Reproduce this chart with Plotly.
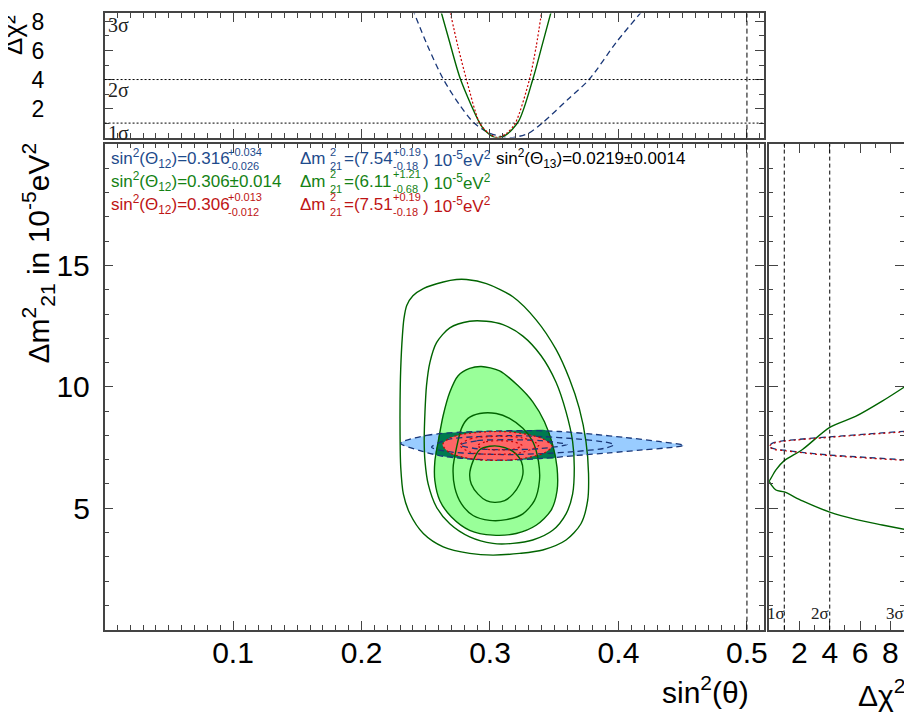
import plotly.graph_objects as go

# The page body has an 8px margin, so the figure is 904x706 and screen pixels are shifted by 8.
OFF = 8
W, H = 912 - OFF, 714 - OFF

# ---------------- data ----------------
# main panel: x = sin^2(theta), y = dm^2_21 in 1e-5 eV^2
green_c1_x = [0.2817,0.2739,0.2636,0.2481,0.2400,0.2352,0.2330,0.2318,0.2305,0.2300,0.2300,0.2305,0.2326,0.2377,0.2481,0.2636,0.2842,0.3023,0.3230,0.3411,0.3592,0.3708,0.3760,0.3767,0.3747,0.3695,0.3618,0.3514,0.3359,0.3178,0.2972]
green_c1_y = [14.42,14.42,14.32,14.05,13.75,13.35,12.80,12.09,10.73,9.38,8.02,6.71,5.58,4.77,3.96,3.41,3.14,3.07,3.14,3.28,3.69,4.36,5.31,6.43,7.75,9.11,10.33,11.54,12.76,13.71,14.25]

green_c2_x = [0.2842,0.2687,0.2584,0.2532,0.2506,0.2494,0.2488,0.2494,0.2519,0.2584,0.2687,0.2842,0.3023,0.3178,0.3333,0.3488,0.3592,0.3643,0.3656,0.3643,0.3592,0.3514,0.3398,0.3256,0.3101,0.2972]
green_c2_y = [12.70,12.43,11.82,11.00,10.06,8.97,7.75,6.94,5.99,5.04,4.36,3.82,3.55,3.55,3.69,4.09,4.77,5.58,6.67,7.75,8.97,10.19,11.28,12.09,12.56,12.70]

green_c3_x = [0.2933,0.2842,0.2752,0.2687,0.2636,0.2597,0.2571,0.2571,0.2610,0.2700,0.2842,0.3023,0.3204,0.3359,0.3475,0.3522,0.3522,0.3488,0.3424,0.3333,0.3217,0.3075]
green_c3_y = [10.84,10.76,10.46,9.78,8.83,7.75,6.94,6.13,5.31,4.64,4.09,3.89,3.96,4.30,4.91,5.72,6.67,7.61,8.56,9.38,10.05,10.66]

green_c4_x = [0.2920,0.2829,0.2778,0.2739,0.2713,0.2726,0.2778,0.2868,0.2997,0.3127,0.3256,0.3346,0.3385,0.3377,0.3333,0.3256,0.3152,0.3049]
green_c4_y = [8.90,8.70,8.29,7.48,6.67,5.85,5.18,4.70,4.50,4.53,4.77,5.31,6.13,6.94,7.75,8.29,8.70,8.90]

green_c5_x = [0.2997,0.2920,0.2868,0.2842,0.2855,0.2907,0.2972,0.3036,0.3114,0.3178,0.3230,0.3256,0.3243,0.3178,0.3075]
green_c5_y = [7.55,7.41,6.94,6.40,5.99,5.58,5.31,5.24,5.31,5.58,5.99,6.40,6.94,7.34,7.55]

blue_out_x = [0.2305,0.2506,0.2765,0.3023,0.3282,0.3540,0.3798,0.4057,0.4315,0.4509,0.4419,0.4186,0.3928,0.3669,0.3411,0.3152,0.2894,0.2636,0.2455]
blue_out_y = [7.68,8.00,8.13,8.18,8.20,8.16,8.05,7.91,7.75,7.59,7.51,7.40,7.28,7.17,7.05,6.98,7.01,7.14,7.37]

blue_mid_x = [0.2545,0.2661,0.2894,0.3152,0.3411,0.3669,0.3902,0.3966,0.3902,0.3669,0.3411,0.3152,0.2894,0.2661]
blue_mid_y = [7.51,7.82,7.95,7.99,7.95,7.86,7.72,7.62,7.48,7.34,7.25,7.21,7.24,7.34]

blue_in_x = [0.2765,0.2900,0.3150,0.3400,0.3600,0.3400,0.3150,0.2900]
blue_in_y = [7.60,7.78,7.82,7.78,7.62,7.46,7.41,7.45]

red_out_x = [0.2631,0.2687,0.2791,0.2920,0.3049,0.3178,0.3307,0.3411,0.3483,0.3424,0.3307,0.3178,0.3049,0.2920,0.2791,0.2687]
red_out_y = [7.62,7.89,8.05,8.13,8.16,8.13,8.02,7.86,7.55,7.28,7.10,6.99,6.97,6.99,7.10,7.28]

red_mid_x = [0.2765,0.2850,0.3050,0.3250,0.3380,0.3250,0.3050,0.2850]
red_mid_y = [7.60,7.86,7.96,7.90,7.60,7.30,7.22,7.30]

red_in_x = [0.2900,0.2970,0.3070,0.3180,0.3250,0.3180,0.3070,0.2970]
red_in_y = [7.58,7.74,7.78,7.74,7.58,7.43,7.40,7.43]

# top panel: delta chi^2 versus sin^2(theta)
top_green_x = [0.2612,0.2678,0.2771,0.2920,0.2959,0.3042,0.3125,0.3224,0.3333,0.3406,0.3483]
top_green_y = [8.9,6.83,4.0,1.0,0.51,0.0,0.19,1.15,4.0,6.37,8.9]
top_red_x = [0.2684,0.2750,0.2817,0.2920,0.2990,0.3060,0.3130,0.3197,0.3307,0.3360,0.3406]
top_red_y = [8.9,6.3,4.0,1.0,0.3,0.0,0.3,1.0,4.0,6.3,8.9]
top_blue_x = [0.2396,0.2512,0.2638,0.2760,0.2877,0.3000,0.3160,0.3300,0.3406,0.3605,0.3771,0.3986,0.4202]
top_blue_y = [8.9,6.37,4.0,2.3,1.0,0.3,0.0,0.3,1.0,2.62,4.0,6.6,8.9]

# right panel: delta chi^2 versus dm^2_21
right_green_x = [8.99,7.46,5.7,4.0,2.2,1.0,0.45,0.06,0.0,0.45,1.0,2.2,4.0,5.7,7.46,8.99]
right_green_y = [10.02,9.41,8.78,8.33,7.42,6.96,6.58,6.17,6.13,5.75,5.67,5.30,4.84,4.54,4.31,4.12]
right_blue_x = [8.99,6.5,4.0,2.0,1.0,0.3,0.0,0.3,1.0,2.0,4.0,6.5,8.99]
right_blue_y = [8.17,8.06,7.94,7.84,7.78,7.70,7.56,7.45,7.39,7.31,7.19,7.09,6.99]
right_red_x = [8.99,4.0,1.0,0.3,0.0,0.3,1.0,4.0,8.99]
right_red_y = [8.15,7.92,7.76,7.68,7.54,7.43,7.37,7.17,6.97]

sigma_levels = [1, 4, 9]
sigma_names = ["1σ", "2σ", "3σ"]
maximal_mixing = 0.5

x_ticks = [0.1, 0.2, 0.3, 0.4, 0.5]
y_ticks = [5, 10, 15]
chi_ticks = [2, 4, 6, 8]

# legend values
leg_colors = ["rgb(30,75,140)", "rgb(20,130,20)", "rgb(190,20,20)"]
leg_s12 = ["0.316", "0.306±0.014", "0.306"]
leg_s12_err = [("+0.034", "-0.026"), None, ("+0.013", "-0.012")]
leg_dm = ["7.54", "6.11", "7.51"]
leg_dm_err = [("+0.19", "-0.18"), ("+1.21", "-0.68"), ("+0.19", "-0.18")]
leg_s13 = "sin<sup>2</sup>(Θ<sub>13</sub>)=0.0219±0.0014"

# ---------------- styling ----------------
SANS = "Liberation Sans, Arial, sans-serif"
SERIF = "Liberation Serif, Times New Roman, serif"
FRAME = "#444444"
LGREEN = "rgb(153,255,153)"
DGREEN_FILL = "rgb(0,122,80)"
LBLUE = "rgb(153,204,255)"
LRED = "rgb(255,102,102)"
GLINE = "rgb(0,100,0)"
BLINE = "rgb(25,55,120)"
RLINE = "rgb(200,0,0)"


def closed(a):
    return list(a) + [a[0]]


def signed_area(xs, ys):
    s = 0.0
    n = len(xs)
    for i in range(n):
        j = (i + 1) % n
        s += xs[i] * ys[j] - xs[j] * ys[i]
    return s / 2


def clip_polygon(sx, sy, cx, cy):
    subj = list(zip(sx, sy))
    clip = list(zip(cx, cy))
    if signed_area(cx, cy) < 0:
        clip = clip[::-1]

    def inside(p, a, b):
        return (b[0] - a[0]) * (p[1] - a[1]) - (b[1] - a[1]) * (p[0] - a[0]) >= 0

    def inter(p, q, a, b):
        x1, y1 = p; x2, y2 = q; x3, y3 = a; x4, y4 = b
        den = (x1 - x2) * (y3 - y4) - (y1 - y2) * (x3 - x4)
        t = ((x1 - x3) * (y3 - y4) - (y1 - y3) * (x3 - x4)) / den
        return (x1 + t * (x2 - x1), y1 + t * (y2 - y1))

    out = subj
    for i in range(len(clip)):
        a, b = clip[i], clip[(i + 1) % len(clip)]
        inp, out = out, []
        if not inp:
            break
        s = inp[-1]
        for e in inp:
            if inside(e, a, b):
                if not inside(s, a, b):
                    out.append(inter(s, e, a, b))
                out.append(e)
            elif inside(s, a, b):
                out.append(inter(s, e, a, b))
            s = e
    return [p[0] for p in out], [p[1] for p in out]


fig = go.Figure()


def add_fill(xs, ys, color, xa="x", ya="y"):
    fig.add_trace(go.Scatter(x=closed(xs), y=closed(ys), mode="lines", fill="toself",
                             fillcolor=color, line=dict(width=0, color=color, shape="spline", smoothing=0.8),
                             hoverinfo="skip", showlegend=False, xaxis=xa, yaxis=ya))


def add_line(xs, ys, color, width=1.3, dash="solid", close=True, xa="x", ya="y"):
    fig.add_trace(go.Scatter(x=closed(xs) if close else xs, y=closed(ys) if close else ys,
                             mode="lines", line=dict(width=width, color=color, dash=dash,
                                                     shape="spline", smoothing=0.8),
                             hoverinfo="skip", showlegend=False, xaxis=xa, yaxis=ya))


# main panel fills
add_fill(green_c3_x, green_c3_y, LGREEN)
add_fill(blue_out_x, blue_out_y, LBLUE)
ix, iy = clip_polygon(blue_out_x, blue_out_y, green_c3_x, green_c3_y)
add_fill(ix, iy, DGREEN_FILL)
add_fill(red_out_x, red_out_y, LRED)

# main panel lines
for cx_, cy_ in [(green_c1_x, green_c1_y), (green_c2_x, green_c2_y), (green_c3_x, green_c3_y),
                 (green_c4_x, green_c4_y), (green_c5_x, green_c5_y)]:
    add_line(cx_, cy_, GLINE, 1.4)
for cx_, cy_ in [(blue_out_x, blue_out_y), (blue_mid_x, blue_mid_y), (blue_in_x, blue_in_y)]:
    add_line(cx_, cy_, BLINE, 1.3, "6px,4px")
for cx_, cy_ in [(red_out_x, red_out_y), (red_mid_x, red_mid_y), (red_in_x, red_in_y)]:
    add_line(cx_, cy_, RLINE, 1.2, "2px,3px")

# top panel curves
add_line(top_blue_x, top_blue_y, BLINE, 1.3, "6px,4px", close=False, xa="x2", ya="y2")
add_line(top_green_x, top_green_y, GLINE, 1.4, close=False, xa="x2", ya="y2")
add_line(top_red_x, top_red_y, RLINE, 1.2, "2px,2px", close=False, xa="x2", ya="y2")

# right panel curves
add_line(right_green_x, right_green_y, GLINE, 1.4, close=False, xa="x3", ya="y3")
add_line(right_blue_x, right_blue_y, BLINE, 1.3, "6px,4px", close=False, xa="x3", ya="y3")
add_line(right_red_x, right_red_y, RLINE, 1.2, "2px,3px", close=False, xa="x3", ya="y3")

# reference lines
for lv in sigma_levels[:2]:
    fig.add_shape(type="line", xref="x2 domain", yref="y2", x0=0, x1=1, y0=lv, y1=lv,
                  line=dict(color="black", width=1, dash="2px,2px"))
    fig.add_shape(type="line", xref="x3", yref="y3 domain", x0=lv, x1=lv, y0=0, y1=1,
                  line=dict(color="black", width=1, dash="4px,3px"))
for ya in ["y", "y2"]:
    fig.add_shape(type="line", xref="x", yref=ya + " domain", x0=maximal_mixing, x1=maximal_mixing,
                  y0=0, y1=1, line=dict(color="black", width=1, dash="5px,3px"))


# screen pixel -> paper coordinates
def px_x(p):
    return (p - OFF) / W


def px_y(p):
    return 1 - (p - OFF) / H


XD_MAIN = [px_x(105), px_x(767)]
XD_RIGHT = [px_x(772.5), px_x(908)]
YD_MAIN = [px_y(629), px_y(140)]
YD_TOP = [px_y(133.5), px_y(8.5)]

MINOR = dict(ticks="inside", ticklen=4.5, tickcolor=FRAME, tickwidth=1)
axis_common = dict(showline=True, linecolor=FRAME, linewidth=1.5, mirror="allticks",
                   ticks="inside", ticklen=9, tickwidth=1.2, tickcolor=FRAME,
                   showgrid=False, zeroline=False,
                   tickfont=dict(family=SANS, size=30, color="black"))

fig.update_layout(
    width=W, height=H, autosize=False,
    margin=dict(l=0, r=0, t=0, b=0),
    paper_bgcolor="white", plot_bgcolor="white",
    showlegend=False,
    xaxis=dict(axis_common, domain=XD_MAIN, range=[0, 0.513], tickvals=x_ticks,
               ticktext=[f"{v:.1f}" for v in x_ticks], anchor="y", ticklabelstandoff=-4,
               minor=dict(MINOR, dtick=0.01, tick0=0)),
    yaxis=dict(axis_common, domain=YD_MAIN, range=[0, 20], tickvals=y_ticks, anchor="x",
               ticklabelstandoff=7,
               minor=dict(MINOR, dtick=1, tick0=0)),
    xaxis2=dict(axis_common, domain=XD_MAIN, range=[0, 0.513], matches="x", anchor="y2",
                tickvals=x_ticks, showticklabels=False,
                minor=dict(MINOR, dtick=0.01, tick0=0)),
    yaxis2=dict(axis_common, domain=YD_TOP, range=[0, 8.55], tickvals=chi_ticks, anchor="x2",
                tickfont=dict(family=SANS, size=23, color="black"), ticklabelstandoff=54,
                ticklabeloverflow="allow",
                minor=dict(MINOR, dtick=1, tick0=0)),
    xaxis3=dict(axis_common, domain=XD_RIGHT, range=[0, 8.9], tickvals=chi_ticks, anchor="y3",
                ticklabelstandoff=-4,
                minor=dict(MINOR, dtick=1, tick0=0)),
    yaxis3=dict(axis_common, domain=YD_MAIN, range=[0, 20], matches="y", anchor="x3",
                tickvals=y_ticks, showticklabels=False,
                minor=dict(MINOR, dtick=1, tick0=0)),
)


def ann(x, y, text, size=17, color="black", xanchor="left", yanchor="middle", family=SANS, angle=0):
    fig.add_annotation(x=px_x(x), y=px_y(y), xref="paper", yref="paper", text=text,
                       showarrow=False, xanchor=xanchor, yanchor=yanchor, textangle=angle,
                       font=dict(family=family, size=size, color=color), borderpad=0)


# axis titles
ann(13, 9, "Δχ²", 26, angle=-90, xanchor="center", yanchor="top")
ann(38, 137, "Δm<sup>2</sup><sub>21</sub> in 10<sup>-5</sup>eV<sup>2</sup>", 30, angle=-90,
    xanchor="center", yanchor="top")
ann(753, 690, "sin<sup>2</sup>(θ)", 30, xanchor="right")
ann(910, 693, "Δχ<sup>2</sup>", 30, xanchor="right")

# sigma labels
top_label_y = [129, 86, 20]
for name, yy in zip(sigma_names, top_label_y):
    ann(107, yy, name, 20, "#222222", family=SERIF)
right_label_x = [789, 834, 909]
for name, xx in zip(sigma_names, right_label_x):
    ann(xx, 613, name, 17, "#222222", xanchor="right", family=SERIF)

# legend block
row_y = [155, 178, 201]
SUP = 11
DY = 7.5
for i in range(3):
    c = leg_colors[i]
    r = row_y[i]
    ann(110, r, "sin<sup>2</sup>(Θ<sub>12</sub>)=" + leg_s12[i], 17, c)
    if leg_s12_err[i]:
        ann(228, r - DY, leg_s12_err[i][0], SUP, c)
        ann(228, r + DY, leg_s12_err[i][1], SUP, c)
    ann(300, r, "Δm", 17, c)
    ann(330, r - DY, "2", SUP, c)
    ann(330, r + DY, "21", SUP, c)
    ann(344, r, "=(" + leg_dm[i], 17, c)
    ann(394, r - DY, leg_dm_err[i][0], SUP, c)
    ann(394, r + DY, leg_dm_err[i][1], SUP, c)
    ann(424, r, ") 10<sup>-5</sup>eV<sup>2</sup>", 17, c)
ann(497, row_y[0], leg_s13, 17, "black")

fig.write_html("out.html")
